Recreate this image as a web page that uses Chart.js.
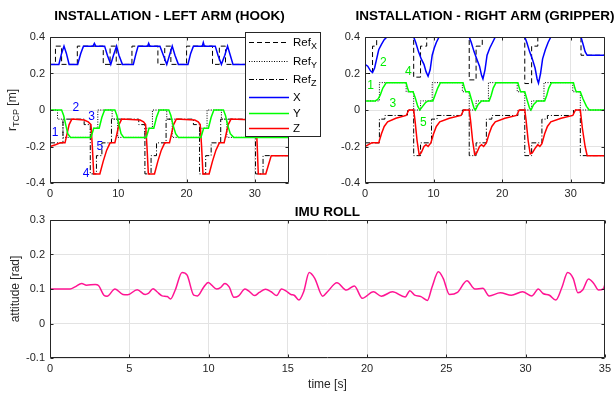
<!DOCTYPE html>
<html>
<head>
<meta charset="utf-8">
<title>Installation - arms and IMU roll</title>
<script src="https://cdn.jsdelivr.net/npm/chart.js@4.4.0/dist/chart.umd.min.js"></script>
<style>
  html, body { margin: 0; padding: 0; background: #fff; }
  #wrap { position: relative; width: 615px; height: 393px; overflow: hidden; }
  canvas { position: absolute; }
  #left { left: 0; top: 0; z-index: 2; }
  #right { left: 300px; top: 0; z-index: 1; }
  #roll { left: 0; top: 200px; z-index: 1; }
</style>
</head>
<body>
<div id="wrap">
  <canvas id="left" width="330" height="200"></canvas>
  <canvas id="right" width="315" height="200"></canvas>
  <canvas id="roll" width="615" height="193"></canvas>
</div>
<script>
// tick values
var xTicksTop = [0, 10, 20, 30];
var yTicksTop = [-0.4, -0.2, 0, 0.2, 0.4];
var xTicksRoll = [0, 5, 10, 15, 20, 25, 30, 35];
var yTicksRoll = [-0.1, 0, 0.1, 0.2, 0.3];

// left arm (hook): [time s, value m]
var leftRefX = [[0,0.25],[0.8,0.25],[0.8,0.35],[1.7,0.35],[1.7,0.25],[4.0,0.25],[4.0,0.35],[7.8,0.35],[7.8,0.25],[8.8,0.25],[8.8,0.35],[9.7,0.35],[9.7,0.25],[12.0,0.25],[12.0,0.35],[15.8,0.35],[15.8,0.25],[16.8,0.25],[16.8,0.35],[17.7,0.35],[17.7,0.25],[20.0,0.25],[20.0,0.35],[23.8,0.35],[23.8,0.25],[24.8,0.25],[24.8,0.35],[25.7,0.35],[25.7,0.25],[35,0.25]];
var leftRefY = [[0,0],[1.1,0],[1.1,-0.05],[1.9,-0.05],[1.9,-0.15],[5.9,-0.15],[5.9,-0.1],[7.0,-0.1],[7.0,0],[9.1,0],[9.1,-0.05],[9.9,-0.05],[9.9,-0.15],[13.9,-0.15],[13.9,-0.1],[15.0,-0.1],[15.0,0],[17.1,0],[17.1,-0.05],[17.9,-0.05],[17.9,-0.15],[21.9,-0.15],[21.9,-0.1],[23.0,-0.1],[23.0,0],[25.1,0],[25.1,-0.05],[25.9,-0.05],[25.9,-0.15],[35,-0.15]];
var leftRefZ = [[0,-0.18],[1.9,-0.18],[1.9,-0.05],[5.0,-0.05],[5.0,-0.08],[5.9,-0.08],[5.9,-0.35],[6.8,-0.35],[6.8,-0.25],[7.6,-0.25],[7.6,-0.18],[9.0,-0.18],[9.0,-0.05],[13.0,-0.05],[13.0,-0.08],[13.9,-0.08],[13.9,-0.35],[14.8,-0.35],[14.8,-0.25],[15.6,-0.25],[15.6,-0.18],[17.0,-0.18],[17.0,-0.05],[21.0,-0.05],[21.0,-0.08],[21.9,-0.08],[21.9,-0.35],[22.8,-0.35],[22.8,-0.25],[23.6,-0.25],[23.6,-0.18],[25.0,-0.18],[25.0,-0.05],[29.2,-0.05],[29.2,-0.08],[30.1,-0.08],[30.1,-0.35],[31.2,-0.35],[31.2,-0.25],[35,-0.25]];
var leftX = [[0,0.25],[1.3,0.25],[1.7,0.31],[2.05,0.35],[2.4,0.31],[2.8,0.25],[4.05,0.25],[4.5,0.31],[4.9,0.35],[6.3,0.35],[6.5,0.365],[6.7,0.35],[8.0,0.35],[8.4,0.3],[8.9,0.25],[9.3,0.3],[9.75,0.35],[10.1,0.3],[10.6,0.25],[12.2,0.25],[12.6,0.31],[12.9,0.35],[14.3,0.35],[14.45,0.365],[14.6,0.35],[16.1,0.35],[16.6,0.3],[17.1,0.25],[17.5,0.3],[17.9,0.35],[18.3,0.3],[18.8,0.25],[20.2,0.25],[20.6,0.31],[21.0,0.35],[22.3,0.35],[22.45,0.37],[22.6,0.35],[24.2,0.35],[24.6,0.3],[25.1,0.25],[25.6,0.3],[26.0,0.35],[26.4,0.3],[26.8,0.25],[35,0.25]];
var leftY = [[0,0],[1.7,0],[2.0,-0.03],[2.3,-0.08],[2.6,-0.13],[3.0,-0.15],[6.0,-0.15],[6.4,-0.1],[7.2,-0.1],[7.6,-0.04],[8.0,0],[9.5,0],[9.8,-0.03],[10.1,-0.08],[10.4,-0.13],[10.8,-0.15],[14.1,-0.15],[14.5,-0.1],[15.2,-0.1],[15.6,-0.04],[16.0,0],[17.4,0],[17.7,-0.03],[18.0,-0.08],[18.4,-0.13],[18.8,-0.15],[22.1,-0.15],[22.5,-0.1],[23.2,-0.1],[23.6,-0.04],[24.0,0],[25.4,0],[25.7,-0.03],[26.0,-0.08],[26.4,-0.13],[26.9,-0.15],[35,-0.15]];
var leftZ = [[0,-0.2],[0.8,-0.19],[1.5,-0.18],[2.2,-0.18],[2.5,-0.13],[2.8,-0.08],[3.2,-0.05],[5.0,-0.055],[5.6,-0.065],[6.0,-0.08],[6.2,-0.2],[6.4,-0.35],[7.3,-0.35],[7.8,-0.28],[8.3,-0.22],[8.8,-0.18],[9.5,-0.18],[9.8,-0.13],[10.1,-0.08],[10.5,-0.05],[13.2,-0.055],[13.7,-0.065],[14.0,-0.08],[14.2,-0.2],[14.4,-0.35],[15.3,-0.35],[15.8,-0.28],[16.3,-0.22],[16.8,-0.18],[17.5,-0.18],[17.8,-0.13],[18.1,-0.08],[18.5,-0.05],[21.2,-0.055],[21.7,-0.065],[22.0,-0.08],[22.2,-0.2],[22.4,-0.35],[23.3,-0.35],[23.8,-0.28],[24.3,-0.22],[24.8,-0.18],[25.5,-0.18],[25.8,-0.13],[26.1,-0.08],[26.5,-0.05],[30.0,-0.055],[30.2,-0.08],[30.35,-0.2],[30.5,-0.35],[31.6,-0.35],[32.0,-0.3],[32.4,-0.25],[35,-0.25]];
var leftMarks = [['1', 0.73, -0.126], ['2', 3.8, 0.012], ['3', 6.1, -0.038], ['4', 5.3, -0.35], ['5', 7.3, -0.2]];

// right arm (gripper): [time s, value m]
var rightRefX = [[0,0.2],[1.1,0.2],[1.1,0.35],[1.7,0.35],[1.7,0.4],[7.1,0.4],[7.1,0.18],[8.1,0.18],[8.1,0.35],[9.0,0.35],[9.0,0.4],[15.2,0.4],[15.2,0.165],[16.2,0.165],[16.2,0.35],[17.1,0.35],[17.1,0.4],[23.3,0.4],[23.3,0.145],[24.3,0.145],[24.3,0.35],[25.2,0.35],[25.2,0.4],[31.5,0.4],[31.5,0.3],[35,0.3]];
var rightRefY = [[0,0.05],[2.1,0.05],[2.1,0.15],[6.0,0.15],[6.0,0.1],[7.1,0.1],[7.1,0],[8.1,0],[8.1,0.05],[9.8,0.05],[9.8,0.15],[14.2,0.15],[14.2,0.1],[15.2,0.1],[15.2,0],[16.2,0],[16.2,0.05],[18.0,0.05],[18.0,0.15],[22.2,0.15],[22.2,0.1],[23.3,0.1],[23.3,0],[24.3,0],[24.3,0.05],[26.1,0.05],[26.1,0.15],[30.3,0.15],[30.3,0.1],[31.4,0.1],[31.4,0],[35,0]];
var rightRefZ = [[0,-0.18],[2.1,-0.18],[2.1,-0.05],[2.9,-0.05],[2.9,-0.03],[6.2,-0.03],[6.2,0],[7.1,0],[7.1,-0.25],[8.1,-0.25],[8.1,-0.18],[9.7,-0.18],[9.7,-0.05],[10.5,-0.05],[10.5,-0.03],[14.2,-0.03],[14.2,0],[15.2,0],[15.2,-0.25],[16.2,-0.25],[16.2,-0.18],[17.7,-0.18],[17.7,-0.05],[18.5,-0.05],[18.5,-0.03],[22.3,-0.03],[22.3,0],[23.3,0],[23.3,-0.25],[24.3,-0.25],[24.3,-0.18],[25.8,-0.18],[25.8,-0.05],[26.6,-0.05],[26.6,-0.03],[30.4,-0.03],[30.4,0],[31.4,0],[31.4,-0.25],[35,-0.25]];
var rightX = [[0,0.25],[0.4,0.24],[0.8,0.215],[1.1,0.205],[1.4,0.23],[1.7,0.28],[2.0,0.33],[2.4,0.36],[2.8,0.385],[3.2,0.4],[7.1,0.4],[7.4,0.37],[7.8,0.32],[8.2,0.28],[8.6,0.25],[8.9,0.21],[9.2,0.185],[9.5,0.22],[9.8,0.3],[10.1,0.34],[10.4,0.37],[10.8,0.4],[15.2,0.4],[15.5,0.37],[15.9,0.32],[16.3,0.28],[16.7,0.24],[17.0,0.19],[17.2,0.17],[17.5,0.22],[17.8,0.3],[18.2,0.34],[18.6,0.37],[19.0,0.4],[23.3,0.4],[23.6,0.37],[24.0,0.32],[24.4,0.28],[24.8,0.23],[25.1,0.17],[25.3,0.147],[25.6,0.2],[25.9,0.28],[26.3,0.33],[26.7,0.37],[27.1,0.4],[31.5,0.4],[31.8,0.36],[32.1,0.32],[32.4,0.3],[35,0.3]];
var rightY = [[0,0.05],[1.5,0.05],[1.9,0.06],[2.2,0.08],[2.6,0.12],[3.1,0.15],[6.0,0.15],[6.2,0.12],[6.4,0.1],[7.0,0.1],[7.3,0.07],[7.7,0.02],[8.0,0],[8.4,0.02],[8.8,0.04],[9.2,0.05],[9.9,0.05],[10.2,0.08],[10.6,0.12],[11.0,0.15],[14.3,0.15],[14.5,0.12],[14.7,0.1],[15.2,0.1],[15.5,0.06],[15.9,0.01],[16.1,0],[16.5,0.03],[17.0,0.05],[18.1,0.05],[18.4,0.08],[18.7,0.12],[19.1,0.15],[22.3,0.15],[22.5,0.12],[22.7,0.1],[23.3,0.1],[23.6,0.06],[24.0,0.01],[24.2,0],[24.6,0.03],[25.1,0.05],[26.2,0.05],[26.5,0.08],[26.8,0.12],[27.2,0.15],[30.4,0.15],[30.6,0.12],[30.8,0.1],[31.4,0.1],[31.8,0.06],[32.3,0.02],[32.7,0],[35,0]];
var rightZ = [[0,-0.2],[0.5,-0.19],[1.0,-0.18],[2.0,-0.18],[2.4,-0.13],[2.8,-0.09],[3.3,-0.065],[4.5,-0.045],[6.0,-0.03],[6.4,0],[7.1,0],[7.3,-0.06],[7.6,-0.17],[7.9,-0.245],[8.2,-0.235],[8.6,-0.2],[8.9,-0.19],[9.2,-0.2],[9.6,-0.18],[10.0,-0.13],[10.4,-0.09],[10.9,-0.065],[12.3,-0.045],[14.0,-0.03],[14.4,0],[15.2,0],[15.4,-0.06],[15.7,-0.17],[16.0,-0.245],[16.3,-0.235],[16.7,-0.2],[17.0,-0.19],[17.3,-0.2],[17.7,-0.18],[18.1,-0.13],[18.5,-0.09],[19.0,-0.065],[20.4,-0.045],[22.1,-0.03],[22.5,0],[23.3,0],[23.5,-0.06],[23.8,-0.17],[24.1,-0.24],[24.4,-0.235],[24.8,-0.21],[25.2,-0.19],[25.5,-0.2],[25.8,-0.185],[26.2,-0.13],[26.6,-0.09],[27.1,-0.065],[28.6,-0.045],[30.3,-0.03],[30.7,0],[31.4,0],[31.7,-0.1],[32.1,-0.2],[32.4,-0.25],[35,-0.25]];
var rightMarks = [['1', 0.83, 0.133], ['2', 2.68, 0.257], ['3', 4.06, 0.034], ['4', 6.33, 0.211], ['5', 8.5, -0.069]];

// IMU roll: [time s, attitude rad]
var roll = [[0,0.1],[1.27,0.1],[1.58,0.106],[2.0,0.116],[2.3,0.111],[2.85,0.113],[3.06,0.11],[3.4,0.082],[3.6,0.079],[4.1,0.1],[4.6,0.084],[4.9,0.083],[5.5,0.098],[6.0,0.084],[6.2,0.087],[6.5,0.101],[6.75,0.092],[7.07,0.08],[7.4,0.078],[7.6,0.071],[7.9,0.097],[8.33,0.148],[8.65,0.14],[9.07,0.082],[9.3,0.08],[9.7,0.106],[9.98,0.119],[10.2,0.111],[10.5,0.1],[10.75,0.104],[11.03,0.116],[11.3,0.106],[11.6,0.076],[11.9,0.08],[12.3,0.1],[12.6,0.092],[12.9,0.081],[13.2,0.09],[13.6,0.099],[13.95,0.092],[14.3,0.081],[14.6,0.1],[14.9,0.094],[15.2,0.084],[15.4,0.082],[15.7,0.068],[16.0,0.092],[16.35,0.148],[16.7,0.131],[17.2,0.079],[17.5,0.092],[18.1,0.118],[18.7,0.097],[19.2,0.109],[19.7,0.073],[20.4,0.092],[20.9,0.079],[21.6,0.092],[22.4,0.077],[22.7,0.095],[23.0,0.082],[23.4,0.078],[23.8,0.067],[24.1,0.106],[24.5,0.15],[24.8,0.131],[25.2,0.084],[25.7,0.09],[26.3,0.124],[26.8,0.1],[27.3,0.102],[27.7,0.08],[28.4,0.089],[29.1,0.082],[29.8,0.092],[30.4,0.08],[30.8,0.1],[31.1,0.087],[31.5,0.082],[31.9,0.068],[32.3,0.106],[32.65,0.148],[33.0,0.131],[33.3,0.089],[33.6,0.097],[33.97,0.129],[34.3,0.116],[34.6,0.097],[34.9,0.1],[35,0.113]];

var FONT = '"Liberation Sans", Arial, Helvetica, sans-serif';
var INK = '#262626';
var GRID = '#e3e3e3';
Chart.defaults.font.family = FONT;
Chart.defaults.color = INK;

function toPts(list) {
    return list.map(function (p) { return { x: p[0], y: p[1] }; });
}

function line(label, sub, data, color, width, dash, order) {
    return {
        label: label, sub: sub, data: toPts(data),
        borderColor: color, borderWidth: width, borderDash: dash,
        pointRadius: 0, tension: 0, fill: false, order: order
    };
}

// text with an optional subscript, parts = [main, sub, rest]
function drawSub(ctx, parts, x, y, size, align) {
    var big = size + 'px ' + FONT, small = Math.round(size * 0.75) + 'px ' + FONT;
    ctx.font = big; var w1 = ctx.measureText(parts[0]).width; var w3 = ctx.measureText(parts[2]).width;
    ctx.font = small; var w2 = ctx.measureText(parts[1]).width;
    var x0 = align == 'center' ? x - (w1 + w2 + w3) / 2 : x;
    ctx.textAlign = 'left'; ctx.textBaseline = 'middle';
    ctx.font = big; ctx.fillText(parts[0], x0, y);
    ctx.font = small; ctx.fillText(parts[1], x0 + w1, y + size * 0.32);
    ctx.font = big; ctx.fillText(parts[2], x0 + w1 + w2, y);
}

var decor = {
    id: 'decor',
    afterDraw: function (chart, args, o) {
        var ctx = chart.ctx, a = chart.chartArea;
        var sx = chart.scales.x, sy = chart.scales.y;
        var L = Math.round(a.left) + 0.5, R = Math.round(a.right) - 0.5;
        var T = Math.round(a.top) + 0.5, B = Math.round(a.bottom) - 0.5;
        ctx.save();
        ctx.setLineDash([]);
        ctx.strokeStyle = INK; ctx.lineWidth = 1;
        ctx.beginPath();
        sx.ticks.forEach(function (t) {
            var p = Math.round(sx.getPixelForValue(t.value)) + 0.5;
            ctx.moveTo(p, B); ctx.lineTo(p, B - 3);
            ctx.moveTo(p, T); ctx.lineTo(p, T + 3);
        });
        sy.ticks.forEach(function (t) {
            var p = Math.round(sy.getPixelForValue(t.value)) + 0.5;
            ctx.moveTo(L, p); ctx.lineTo(L + 3, p);
            ctx.moveTo(R, p); ctx.lineTo(R - 3, p);
        });
        ctx.rect(L, T, R - L, B - T);
        ctx.stroke();

        ctx.fillStyle = '#000';
        ctx.font = 'bold 13.5px ' + FONT;
        ctx.textAlign = 'center'; ctx.textBaseline = 'middle';
        ctx.fillText(o.title, (a.left + a.right) / 2, o.titleY);

        ctx.fillStyle = INK;
        if (o.xLabel) {
            ctx.font = '12px ' + FONT;
            ctx.fillText(o.xLabel, (a.left + a.right) / 2, o.xLabelY);
        }
        if (o.yLabel) {
            ctx.save();
            ctx.translate(o.yLabelX, (a.top + a.bottom) / 2);
            ctx.rotate(-Math.PI / 2);
            drawSub(ctx, o.yLabel, 0, 0, 12, 'center');
            ctx.restore();
        }
        if (o.marks) {
            ctx.font = '12px ' + FONT;
            ctx.fillStyle = o.marks.color;
            ctx.textAlign = 'center'; ctx.textBaseline = 'middle';
            o.marks.list.forEach(function (m) {
                ctx.fillText(m[0], sx.getPixelForValue(m[1]), sy.getPixelForValue(m[2]));
            });
        }
        if (o.legend) {
            var g = o.legend;
            ctx.fillStyle = '#fff';
            ctx.fillRect(g.x, g.y, g.w, g.h);
            ctx.strokeStyle = INK; ctx.lineWidth = 1;
            ctx.strokeRect(g.x + 0.5, g.y + 0.5, g.w, g.h);
            chart.data.datasets.forEach(function (d, i) {
                var y = g.rows[i] + 0.5;
                ctx.strokeStyle = d.borderColor; ctx.lineWidth = d.borderWidth;
                ctx.setLineDash(d.borderDash || []);
                ctx.beginPath(); ctx.moveTo(g.x + 4, y); ctx.lineTo(g.x + 44, y); ctx.stroke();
                ctx.setLineDash([]);
                ctx.fillStyle = '#000';
                drawSub(ctx, [d.label, d.sub, ''], g.x + 48, y, 11.5, 'left');
            });
        }
        ctx.restore();
    }
};

function fmt(v) { return String(Math.round(v * 100) / 100); }
function fixedTicks(list) {
    return function (s) { s.ticks = list.map(function (v) { return { value: v }; }); };
}

function makeChart(id, datasets, o) {
    return new Chart(document.getElementById(id).getContext('2d'), {
        type: 'line',
        data: { datasets: datasets },
        options: {
            responsive: false,
            animation: false,
            devicePixelRatio: 1,
            events: [],
            layout: { padding: { left: 0, top: o.padTop, right: o.padRight, bottom: 0 } },
            scales: {
                x: {
                    type: 'linear', min: 0, max: 35,
                    afterBuildTicks: fixedTicks(o.xTicks),
                    afterFit: function (s) { s.height = o.xHeight; },
                    grid: { color: GRID, drawTicks: false },
                    border: { display: false },
                    ticks: { autoSkip: false, maxRotation: 0, padding: 4, color: INK, font: { size: 11 }, callback: fmt }
                },
                y: {
                    type: 'linear', min: o.yMin, max: o.yMax,
                    afterBuildTicks: fixedTicks(o.yTicks),
                    afterFit: function (s) { s.width = o.yWidth; },
                    grid: { color: GRID, drawTicks: false },
                    border: { display: false },
                    ticks: { autoSkip: false, padding: 5, color: INK, font: { size: 11 }, callback: fmt }
                }
            },
            plugins: { legend: { display: false }, tooltip: { enabled: false }, decor: o.decor }
        },
        plugins: [decor]
    });
}

var dashX = [5, 3], dotY = [1, 1.5], dashDotZ = [5, 2, 1, 2];

makeChart('left', [
    line('Ref', 'X', leftRefX, '#000', 1, dashX, 1),
    line('Ref', 'Y', leftRefY, '#000', 1, dotY, 1),
    line('Ref', 'Z', leftRefZ, '#000', 1, dashDotZ, 1),
    line('X', '', leftX, '#0000ff', 1.5, [], 0),
    line('Y', '', leftY, '#00ff00', 1.5, [], 0),
    line('Z', '', leftZ, '#ff0000', 1.5, [], 0)
], {
    padTop: 37, padRight: 41, xHeight: 17, yWidth: 50,
    yMin: -0.4, yMax: 0.4, xTicks: xTicksTop, yTicks: yTicksTop,
    decor: {
        title: 'INSTALLATION - LEFT ARM (HOOK)', titleY: 16,
        yLabel: ['r', 'TCP', ' [m]'], yLabelX: 13,
        marks: { color: '#0000ff', list: leftMarks },
        legend: { x: 245, y: 32, w: 75, h: 104, rows: [42, 61, 79, 97, 113, 128] }
    }
});

makeChart('right', [
    line('Ref', 'X', rightRefX, '#000', 1, dashX, 1),
    line('Ref', 'Y', rightRefY, '#000', 1, dotY, 1),
    line('Ref', 'Z', rightRefZ, '#000', 1, dashDotZ, 1),
    line('X', '', rightX, '#0000ff', 1.5, [], 0),
    line('Y', '', rightY, '#00ff00', 1.5, [], 0),
    line('Z', '', rightZ, '#ff0000', 1.5, [], 0)
], {
    padTop: 37, padRight: 10, xHeight: 17, yWidth: 65,
    yMin: -0.4, yMax: 0.4, xTicks: xTicksTop, yTicks: yTicksTop,
    decor: {
        title: 'INSTALLATION - RIGHT ARM (GRIPPER)', titleY: 16,
        marks: { color: '#00ee00', list: rightMarks }
    }
});

var rollSet = line('roll', '', roll, '#ff1493', 1.5, [], 0);
rollSet.tension = 0.4;
rollSet.cubicInterpolationMode = 'monotone';

makeChart('roll', [rollSet], {
    padTop: 20, padRight: 10, xHeight: 35, yWidth: 50,
    yMin: -0.1, yMax: 0.3, xTicks: xTicksRoll, yTicks: yTicksRoll,
    decor: {
        title: 'IMU ROLL', titleY: 12,
        xLabel: 'time [s]', xLabelY: 185,
        yLabel: ['attitude [rad]', '', ''], yLabelX: 16
    }
});
</script>
</body>
</html>
